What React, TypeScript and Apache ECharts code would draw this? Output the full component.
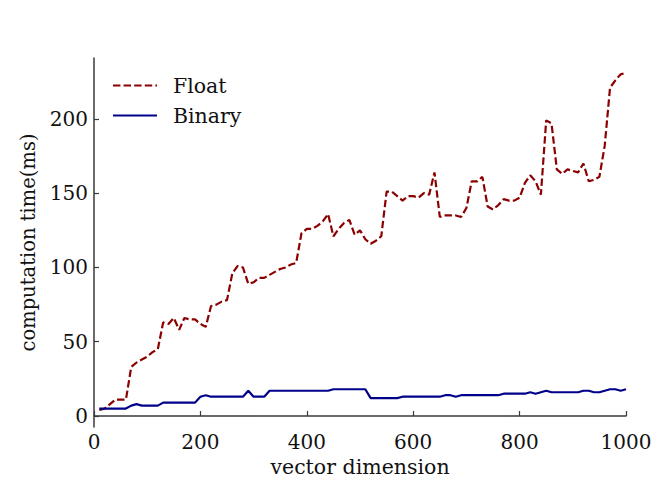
import React, { useEffect, useRef } from "react";
import * as echarts from "echarts";

const dims = [
  10, 20, 30, 40, 50, 60, 70, 80, 90, 100,
  110, 120, 130, 140, 150, 160, 170, 180, 190, 200,
  210, 220, 230, 240, 250, 260, 270, 280, 290, 300,
  310, 320, 330, 340, 350, 360, 370, 380, 390, 400,
  410, 420, 430, 440, 450, 460, 470, 480, 490, 500,
  510, 520, 530, 540, 550, 560, 570, 580, 590, 600,
  610, 620, 630, 640, 650, 660, 670, 680, 690, 700,
  710, 720, 730, 740, 750, 760, 770, 780, 790, 800,
  810, 820, 830, 840, 850, 860, 870, 880, 890, 900,
  910, 920, 930, 940, 950, 960, 970, 980, 990, 1000,
];

const floatTimes = [
  4, 5, 8, 11, 11, 11, 33, 36, 38, 40,
  43, 45, 63, 62, 66, 58, 66, 65, 65, 62,
  60, 74, 75, 77, 78, 96, 101, 100, 89, 90,
  93, 93, 95, 97, 99, 100, 102, 103, 123, 126,
  126, 128, 131, 136, 121, 126, 130, 132, 122, 125,
  119, 116, 118, 121, 151, 151, 148, 145, 148, 148,
  147, 150, 149, 164, 134, 135, 135, 135, 134, 140,
  158, 158, 161, 141, 139, 142, 146, 145, 145, 147,
  157, 162, 158, 149, 199, 197, 166, 163, 166, 165,
  164, 170, 158, 159, 161, 182, 221, 226, 230, 231,
];

const binaryTimes = [
  5, 5, 5, 5, 5, 5, 7, 8, 7, 7,
  7, 7, 9, 9, 9, 9, 9, 9, 9, 13,
  14, 13, 13, 13, 13, 13, 13, 13, 17, 13,
  13, 13, 17, 17, 17, 17, 17, 17, 17, 17,
  17, 17, 17, 17, 18, 18, 18, 18, 18, 18,
  18, 12, 12, 12, 12, 12, 12, 13, 13, 13,
  13, 13, 13, 13, 13, 14, 14, 13, 14, 14,
  14, 14, 14, 14, 14, 14, 15, 15, 15, 15,
  15, 16, 15, 16, 17, 16, 16, 16, 16, 16,
  16, 17, 17, 16, 16, 17, 18, 18, 17, 18,
];

const yTicks = [0, 50, 100, 150, 200];

const FONT = "DejaVu Serif";
const AXIS_COLOR = "#3a3a3a";

export default function App() {
  const ref = useRef<HTMLDivElement>(null);

  useEffect(() => {
    if (!ref.current) return;
    const chart = echarts.init(ref.current, undefined, { renderer: "svg" });
    const floatData = dims.map((d, i) => [d, floatTimes[i]]);
    const binData = dims.map((d, i) => [d, binaryTimes[i]]);
    chart.setOption({
      animation: false,
      backgroundColor: "#ffffff",
      textStyle: { fontFamily: FONT },
      grid: { left: 94, right: 38, top: 58, bottom: 70, containLabel: false },
      legend: {
        orient: "vertical",
        left: 107,
        top: 70,
        itemWidth: 44,
        itemHeight: 16,
        itemGap: 9,
        itemStyle: { opacity: 0, borderWidth: 0 },
        textStyle: {
          fontFamily: FONT,
          fontSize: 20.5,
          color: "#111",
          padding: [0, 0, 0, 11],
        },
        data: ["Float", "Binary"],
      },
      xAxis: {
        type: "value",
        min: 0,
        max: 1000,
        interval: 200,
        name: "vector dimension",
        nameLocation: "middle",
        nameGap: 27,
        nameTextStyle: { fontFamily: FONT, fontSize: 20.5, color: "#111" },
        splitLine: { show: false },
        axisLine: { show: true, lineStyle: { color: AXIS_COLOR, width: 1.5 } },
        axisTick: { show: true, inside: true, length: 5, lineStyle: { color: AXIS_COLOR, width: 1.2 } },
        axisLabel: {
          margin: 5,
          fontFamily: FONT,
          fontSize: 20,
          color: "#111",
          formatter: (v: number) => String(v),
        },
      },
      yAxis: {
        type: "value",
        min: -7.4,
        max: 241,
        name: "computation time(ms)",
        nameLocation: "middle",
        nameGap: 50,
        nameTextStyle: { fontFamily: FONT, fontSize: 19.5, color: "#111" },
        splitLine: { show: false },
        axisLine: { show: true, onZero: false, lineStyle: { color: AXIS_COLOR, width: 1.5 } },
        axisTick: {
          show: true,
          inside: true,
          length: 5,
          customValues: yTicks,
          lineStyle: { color: AXIS_COLOR, width: 1.2 },
        },
        axisLabel: {
          margin: 6,
          fontFamily: FONT,
          fontSize: 20,
          color: "#111",
          customValues: yTicks,
          formatter: (v: number) => String(v),
        },
      },
      series: [
        {
          name: "Float",
          type: "line",
          data: floatData,
          symbol: "none",
          color: "#8b0000",
          lineStyle: { color: "#8b0000", width: 2.2, type: [7.4, 3.2] },
        },
        {
          name: "Binary",
          type: "line",
          data: binData,
          symbol: "none",
          color: "#00008b",
          lineStyle: { color: "#00008b", width: 2.2, type: "solid" },
        },
      ],
    });
    return () => chart.dispose();
  }, []);

  return (
    <div
      ref={ref}
      style={{ position: "fixed", left: 0, top: 0, width: 664, height: 497, background: "#fff" }}
    />
  );
}
